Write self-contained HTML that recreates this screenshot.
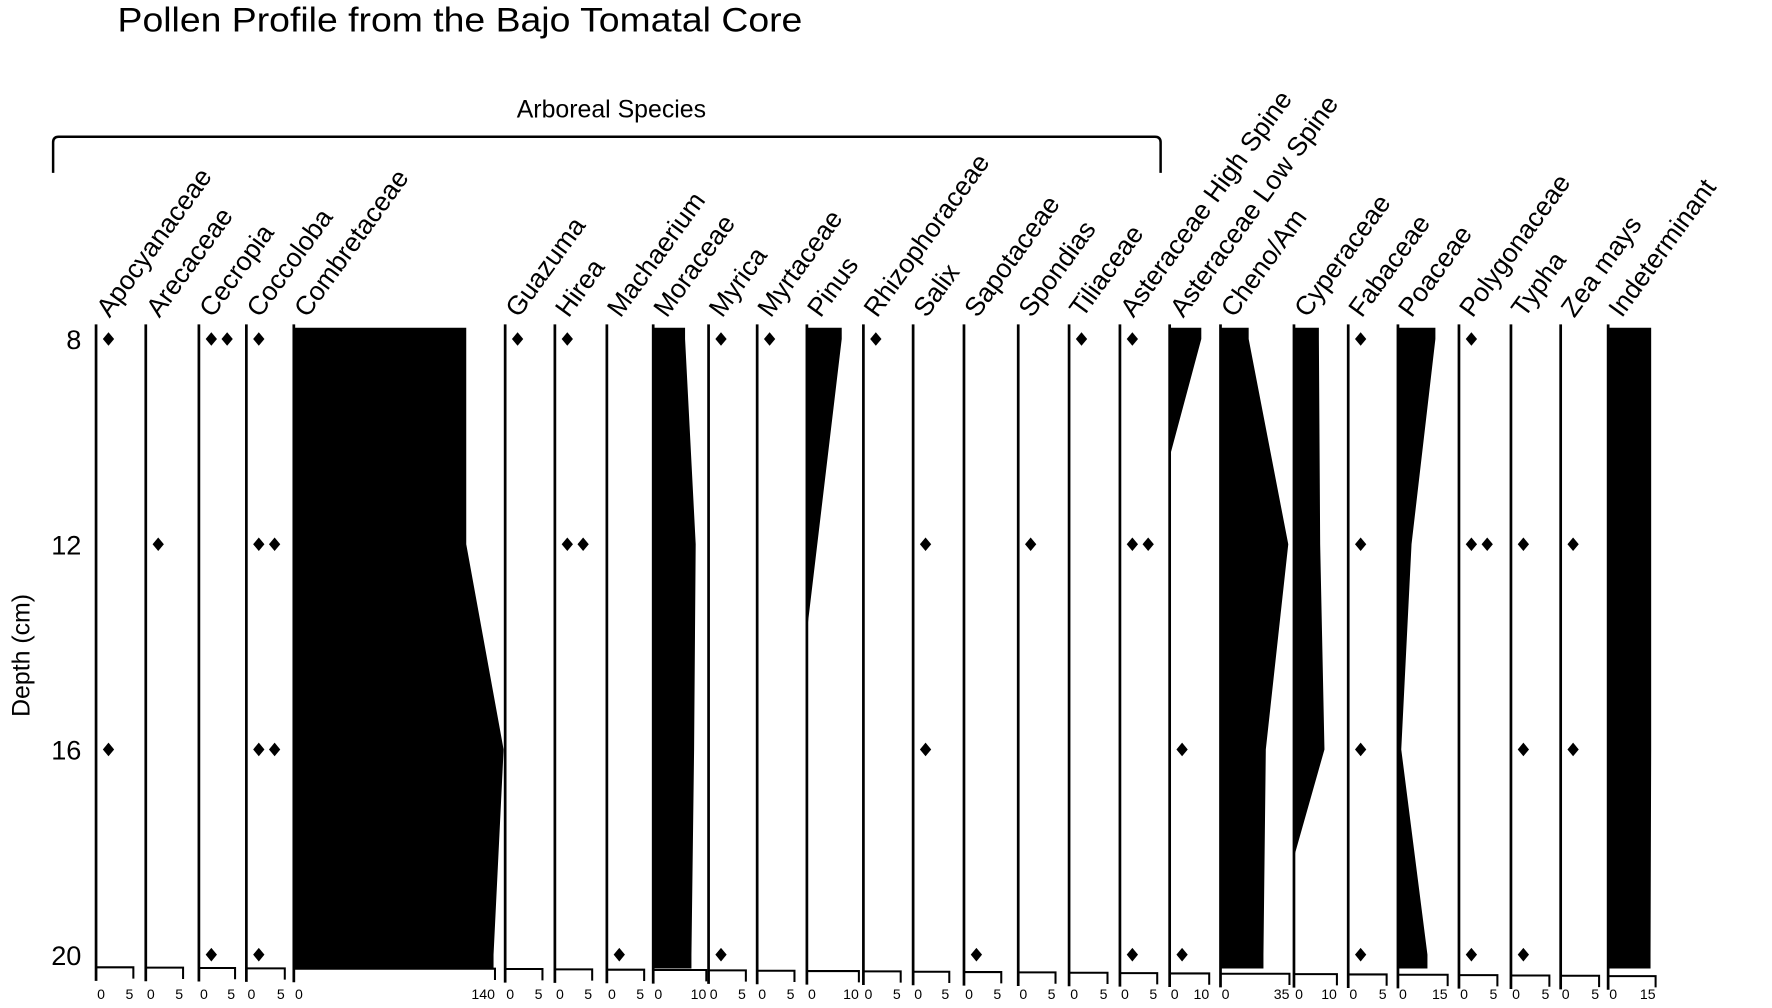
<!DOCTYPE html>
<html><head><meta charset="utf-8"><title>Pollen Profile</title>
<style>html,body{margin:0;padding:0;background:#fff;}svg{display:block;}</style></head>
<body>
<svg id="chart" width="1772" height="1008" viewBox="0 0 1568 892" preserveAspectRatio="none" xmlns="http://www.w3.org/2000/svg" font-family="'Liberation Sans', sans-serif">
<rect width="1568" height="892" fill="#fff"/>
<text x="104" y="28" font-size="30" textLength="606" lengthAdjust="spacingAndGlyphs">Pollen Profile from the Bajo Tomatal Core</text>
<text x="541" y="104" font-size="22" text-anchor="middle">Arboreal Species</text>
<path d="M47,153 L47,126 Q47,121 52,121 L1022,121 Q1027,121 1027,126 L1027,153" fill="none" stroke="#000" stroke-width="2.2"/>
<text transform="translate(26,580) rotate(-90)" font-size="22" text-anchor="middle">Depth (cm)</text>
<g id="g"></g>
</svg>
<script>
const taxa = ["Apocyanaceae","Arecaceae","Cecropia","Coccoloba","Combretaceae","Guazuma","Hirea","Machaerium","Moraceae","Myrica","Myrtaceae","Pinus","Rhizophoraceae","Salix","Sapotaceae","Spondias","Tiliaceae","Asteraceae High Spine","Asteraceae Low Spine","Cheno/Am","Cyperaceae","Fabaceae","Poaceae","Polygonaceae","Typha","Zea mays","Indeterminant"];
const scaleMax = [5,5,5,5,140,5,5,5,10,5,5,10,5,5,5,5,5,5,10,35,10,5,15,5,5,5,15];
const depthTicks = [8,12,16,20];
const sampleDepths = [8,12,16,20];
// trace counts (diamonds) per sample depth
const traceCounts = {
  "Apocyanaceae":[1,0,1,0], "Arecaceae":[0,1,0,0], "Cecropia":[2,0,0,1], "Coccoloba":[1,2,2,1],
  "Guazuma":[1,0,0,0], "Hirea":[1,2,0,0], "Machaerium":[0,0,0,1], "Myrica":[1,0,0,1],
  "Myrtaceae":[1,0,0,0], "Rhizophoraceae":[1,0,0,0], "Salix":[0,1,1,0], "Sapotaceae":[0,0,0,1],
  "Spondias":[0,1,0,0], "Tiliaceae":[1,0,0,0], "Asteraceae High Spine":[1,2,0,1],
  "Asteraceae Low Spine":[0,0,1,1], "Fabaceae":[1,1,1,1], "Polygonaceae":[1,2,0,1],
  "Typha":[0,1,1,1], "Zea mays":[0,1,1,0]
};
// filled curves: depths and percent values
const combretDepths = [8,12,16,20];   const combretValues = [120,120,146,139];
const moraDepths = [8,12,16,20];      const moraValues = [6,8,7.7,7.2];
const pinusDepths = [8,13.7,20];      const pinusValues = [6.7,0,0];
const alsDepths = [8,10.3,20];        const alsValues = [8,0,0];
const chenoDepths = [8,12,16,20];     const chenoValues = [14.3,34.4,23,21.8];
const cyperDepths = [8,12,16,18.1,20];const cyperValues = [5.8,6.1,7.1,0,0];
const poaDepths = [8,12,16,20];       const poaValues = [11.3,4.1,1,8.9];
const indetDepths = [8,12,16,20];     const indetValues = [13.6,13.6,13.6,13.4];
const curves = {
  "Combretaceae":[combretDepths,combretValues], "Moraceae":[moraDepths,moraValues],
  "Pinus":[pinusDepths,pinusValues], "Asteraceae Low Spine":[alsDepths,alsValues],
  "Cheno/Am":[chenoDepths,chenoValues], "Cyperaceae":[cyperDepths,cyperValues],
  "Poaceae":[poaDepths,poaValues], "Indeterminant":[indetDepths,indetValues]
};

// layout
const colX = [85,129,176,218,260,447,491,537,578,627,670,714,764,808,853,901,946,991,1035,1080,1145,1193,1237,1291,1337,1381,1423];
const colW = [33,33,32,34,178,33,33,33,47,33,33,46,33,32,33,33,34,33,35,61,38,34,44,34,34,34,42];
const yOf = d => 300 + (d - 8) * 45.4;
const topD = 7.78, botD = 20.27;
const NS = "http://www.w3.org/2000/svg";
const g = document.getElementById('g');
function mk(tag, attrs, parent){const e=document.createElementNS(NS,tag);for(const k in attrs)e.setAttribute(k,attrs[k]);(parent||g).appendChild(e);return e;}

depthTicks.forEach(d=>{
  const t = mk('text',{x:72,y:yOf(d)+9,'font-size':24,'text-anchor':'end'});
  
  
  t.textContent = d;
});

taxa.forEach((name,i)=>{
  const x0 = colX[i], w = colW[i], mx = scaleMax[i];
  const xOf = v => x0 + v / mx * w;
  const slug = name.toLowerCase().replace(/[^a-z]+/g,'-');
  const col = mk('g',{});
  
  
  const axY = 856 + i*0.3;
  // label
  const lab = mk('text',{transform:`translate(${x0+12},282) rotate(-54)`,'font-size':23.5},col);
  
  
  lab.textContent = name;
  // curve
  if(curves[name]){
    const [ds,vs] = curves[name];
    let pts = [[x0,yOf(topD)],[xOf(vs[0]),yOf(topD)]];
    ds.forEach((d,k)=>pts.push([xOf(vs[k]),yOf(d)]));
    pts.push([xOf(vs[vs.length-1]),yOf(botD)],[x0,yOf(botD)]);
    const p = mk('polygon',{points:pts.map(p=>p.join(',')).join(' '),fill:'#000'},col);
    
    
  }
  // baseline
  const bl = mk('line',{x1:x0,y1:287,x2:x0,y2:axY+12,stroke:'#000','stroke-width':2.4},col);
  
  
  // bottom scale
  const ax = mk('path',{d:`M${x0},${axY} L${x0+w},${axY} L${x0+w},${axY+10}`,fill:'none',stroke:'#000','stroke-width':1.8},col);
  
  
  const t0 = mk('text',{x:x0+1,y:884,'font-size':12.5,'text-anchor':'start'},col);
  
  
  t0.textContent='0';
  const t1 = mk('text',{x:x0+w,y:884,'font-size':12.5,'text-anchor':'end'},col);
  
  
  t1.textContent=mx;
  // traces
  if(traceCounts[name]){
    traceCounts[name].forEach((c,k)=>{
      for(let j=0;j<c;j++){
        const cx = x0 + 11 + j*14, cy = yOf(sampleDepths[k]);
        const dm = mk('polygon',{points:`${cx},${cy-6} ${cx+5},${cy} ${cx},${cy+6} ${cx-5},${cy}`,fill:'#000'},col);
        
        
      }
    });
  }
});
</script>
</body></html>
